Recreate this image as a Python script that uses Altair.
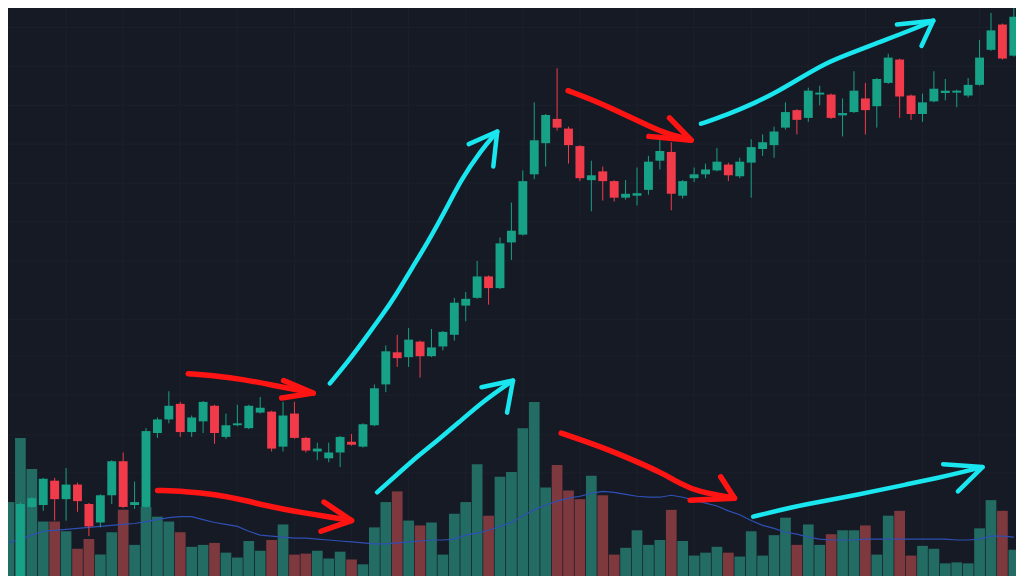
import altair as alt
import pandas as pd

# ---------------- colours ----------------
BG = "#161a25"
GRID = "#1c202c"
UP = "#17a187"
DOWN = "#f23b4a"
VOL_UP = "#236c64"
VOL_DOWN = "#7d393e"
MA_COLOR = "#2f4fb3"
RED = "#ff1414"
CYAN = "#19e6ef"

# ---------------- candle data (price units) ----------------
opens = [
    92, 92, 135.5, 136.5, 149, 139.5, 147, 137, 127.5, 141.5,
    159, 136.5, 135.5, 173.5, 180.5, 188.5, 174, 179.5, 187.5, 171.5,
    177.5, 176, 184, 184.5, 166.5, 183.5, 171, 164, 160.5, 163.5,
    169, 166.5, 177.5, 198.5, 215, 212.5, 220.5, 213, 218, 224,
    239, 243, 254, 248, 271.5, 275.5, 306.5, 322.5, 335, 330,
    321, 303.5, 308, 303, 294.5, 295.5, 298.5, 313.5, 318, 295.5,
    304.5, 306.5, 308.5, 311.5, 305.5, 312.5, 319.5, 321.5, 330.5, 339.5,
    335.5, 347.5, 347.5, 336.8, 338.5, 345.5, 341.5, 353.5, 365.5, 347,
    337.5, 344, 348.3, 348.5, 347, 352.5, 370.5, 383.5, 367.5]
highs = [
    98, 138, 140.5, 150.5, 150.5, 155.5, 148, 137.5, 142, 159.5,
    163.5, 148.5, 176, 181.5, 195, 189.5, 182.5, 190, 188, 183.5,
    188, 188, 192, 185, 189.5, 189.5, 171.5, 168.5, 168.5, 172,
    173, 178.5, 198.5, 218.5, 224, 227.5, 221, 227, 226, 243,
    246, 262, 254.5, 274, 292, 308.5, 343.5, 337.5, 361, 331,
    321.5, 313.5, 310.5, 303.5, 303.5, 310, 316, 324, 323, 303.5,
    310, 312, 320, 312.5, 315, 324.5, 327, 331, 343.5, 340,
    351, 352, 348, 345.5, 359.5, 353.5, 356, 368.5, 366, 347.5,
    348, 359.5, 355.5, 350, 356, 375.5, 389.5, 384, 395]
lows = [
    90, 90, 135, 133.5, 128.5, 128.5, 133, 120.5, 125, 137,
    135, 134.5, 135, 171, 178.5, 171.5, 171.5, 173.5, 168, 170.5,
    177, 175.5, 183.5, 164, 164, 170.5, 163.5, 159.5, 158.5, 156,
    167, 166, 177, 194.5, 207.5, 207.5, 202, 212.5, 216, 221,
    231, 242.5, 239.5, 247.5, 262.5, 275, 304, 310.5, 329, 312,
    303, 287.5, 293, 292.5, 293.5, 290.5, 296, 309, 288, 294,
    302.5, 304.5, 308, 303, 304.5, 294.5, 316, 315, 329.5, 327,
    333.5, 342, 335, 326, 338, 327, 330.5, 353, 335.5, 334.5,
    333.5, 343.5, 344.5, 341, 346, 352, 370, 365.5, 367]
closes = [
    96, 137, 140, 150, 139.5, 147, 138.5, 125.5, 141.5, 159,
    135.5, 138, 174.5, 180.5, 187.5, 174, 181.5, 189.5, 173.5, 177.5,
    178.5, 187.5, 186.5, 165.5, 182.5, 171, 164.5, 165.5, 163.5, 171.5,
    167.5, 178, 196.5, 215.5, 212, 221.5, 213, 217.5, 225.5, 240.5,
    242.5, 254, 248, 271, 277.5, 303, 324, 337, 330.5, 321.5,
    304.5, 306, 303, 294.5, 296.5, 296.8, 313, 318.5, 296.5, 303,
    306.5, 309, 313, 306, 313, 320.5, 323, 328.5, 338.5, 334.5,
    349.5, 348.5, 335.5, 338, 349.5, 339.5, 355.5, 366.5, 346.5, 337.5,
    343.5, 350.5, 349.5, 349.5, 352.5, 366.5, 380.5, 366, 387.5]

# ---------------- volume data ----------------
volumes = [
    760, 1420, 1100, 560, 560, 460, 280, 380, 220, 450,
    680, 320, 710, 610, 560, 450, 300, 320, 340, 240,
    190, 360, 260, 370, 530, 220, 230, 260, 180, 250,
    170, 120, 500, 760, 870, 570, 520, 550, 220, 640,
    760, 1150, 620, 1020, 1070, 1520, 1790, 910, 1140, 880,
    790, 1030, 830, 220, 290, 470, 320, 370, 680, 360,
    210, 240, 300, 240, 200, 460, 210, 420, 600, 320,
    530, 320, 430, 470, 470, 520, 220, 620, 670, 210,
    310, 280, 130, 140, 130, 490, 780, 670, 270]
volume_ma = [
    340, 380, 420, 460, 470, 480, 490, 500, 510, 520,
    530, 540, 560, 580, 600, 610, 610, 580, 550, 530,
    510, 460, 420, 410, 400, 390, 390, 380, 370, 360,
    350, 340, 330, 330, 340, 350, 360, 370, 370, 380,
    420, 440, 470, 510, 550, 620, 680, 730, 770, 800,
    820, 850, 870, 860, 840, 820, 810, 810, 830, 810,
    780, 750, 720, 670, 630, 570, 520, 490, 450, 430,
    400, 380, 370, 370, 370, 380, 380, 380, 380, 380,
    380, 380, 380, 370, 370, 380, 410, 410, 400]

# ---------------- grid ----------------
grid_rows_px = [20, 60, 100, 140, 180, 220, 260, 320, 358, 398, 439, 478]
grid_cols_bar = [5, 10, 15, 20, 25, 30, 35, 40, 45, 50, 55, 60, 65, 70, 75, 80, 85]

# ---------------- hand-drawn arrows (screen space of the picture) ----------------
red_arrow_1 = [(183, 376), (210, 378), (240, 382), (270, 388), (295, 393), (310, 396)]
red_arrow_1_head = [(280, 383), (310, 396), (278, 401)]
red_arrow_2 = [(152, 496), (180, 497), (210, 500), (240, 506), (267, 513), (300, 519), (330, 524), (349, 527)]
red_arrow_2_head = [(321, 508), (349, 527), (318, 538)]
red_arrow_3 = [(569, 85), (590, 93), (613, 103), (640, 116), (663, 127), (680, 132), (694, 136)]
red_arrow_3_head = [(672, 113), (694, 136), (651, 132)]
red_arrow_4 = [(562, 437), (585, 445), (612, 455), (640, 467), (662, 477), (685, 490), (700, 497), (738, 504)]
red_arrow_4_head = [(724, 482), (738, 504), (693, 506)]
cyan_arrow_1 = [(327, 386), (345, 364), (362, 341), (380, 316), (393, 297), (410, 268), (427, 240),
                (445, 207), (460, 177), (480, 147), (497, 127)]
cyan_arrow_1_head = [(468, 140), (497, 127), (493, 163)]
cyan_arrow_2 = [(375, 498), (395, 480), (417, 460), (437, 444), (457, 427), (483, 404), (513, 383)]
cyan_arrow_2_head = [(481, 390), (513, 383), (507, 416)]
cyan_arrow_3 = [(704, 119), (730, 110), (760, 97), (780, 87), (805, 72), (830, 57), (855, 47),
                (880, 37), (917, 23), (940, 13)]
cyan_arrow_3_head = [(903, 17), (940, 13), (928, 39)]
cyan_arrow_4 = [(757, 523), (785, 516), (812, 510), (845, 504), (879, 497), (912, 490), (945, 483),
                (970, 477), (990, 472)]
cyan_arrow_4_head = [(950, 469), (990, 472), (965, 497)]

# ---------------- tables ----------------
n = len(opens)
df = pd.DataFrame({
    "i": list(range(n)),
    "open": opens, "high": highs, "low": lows, "close": closes,
    "volume": volumes, "vol_ma": volume_ma,
})
df["dir"] = ["up" if c >= o else "down" for o, c in zip(opens, closes)]


def arrow_rows(kind, name, pts):
    return [{"kind": kind, "seg": name, "ord": k, "x": p[0], "y": p[1]} for k, p in enumerate(pts)]


shaft_rows, head_rows = [], []
for kind, name, shaft, head in [
    ("red", "r1", red_arrow_1, red_arrow_1_head),
    ("red", "r2", red_arrow_2, red_arrow_2_head),
    ("red", "r3", red_arrow_3, red_arrow_3_head),
    ("red", "r4", red_arrow_4, red_arrow_4_head),
    ("cyan", "c1", cyan_arrow_1, cyan_arrow_1_head),
    ("cyan", "c2", cyan_arrow_2, cyan_arrow_2_head),
    ("cyan", "c3", cyan_arrow_3, cyan_arrow_3_head),
    ("cyan", "c4", cyan_arrow_4, cyan_arrow_4_head),
]:
    shaft_rows += arrow_rows(kind, name, shaft)
    head_rows += arrow_rows(kind, name + "h", head)
shafts = pd.DataFrame(shaft_rows)
heads = pd.DataFrame(head_rows)
grid_rows = pd.DataFrame({"y": grid_rows_px})
grid_cols = pd.DataFrame({"i": grid_cols_bar})

# ---------------- scales ----------------
W, H = 1008, 568
x_bar = alt.Scale(domain=[-0.086, 88.19], nice=False, zero=False)
y_price = alt.Scale(domain=[100, 392], nice=False, zero=False)
y_vol = alt.Scale(domain=[0, 5840], nice=False, zero=False)
x_px = alt.Scale(domain=[0, 1024], nice=False, zero=False)
y_px = alt.Scale(domain=[0, 584], nice=False, zero=False, reverse=True)
candle_color = alt.Color("dir:N", scale=alt.Scale(domain=["up", "down"], range=[UP, DOWN]), legend=None)
vol_color = alt.Color("dir:N", scale=alt.Scale(domain=["up", "down"], range=[VOL_UP, VOL_DOWN]), legend=None)
arrow_color = alt.Color("kind:N", scale=alt.Scale(domain=["red", "cyan"], range=[RED, CYAN]), legend=None)

grid_h = alt.Chart(grid_rows).mark_rule(color=GRID, strokeWidth=1).encode(
    y=alt.Y("y:Q", scale=y_px, axis=None))
grid_v = alt.Chart(grid_cols).mark_rule(color=GRID, strokeWidth=1).encode(
    x=alt.X("i:Q", scale=x_bar, axis=None))

base = alt.Chart(df)
vol = base.transform_calculate(x0="datum.i - 0.47", x1="datum.i + 0.47").mark_bar(clip=True).encode(
    x=alt.X("x0:Q", scale=x_bar, axis=None), x2="x1:Q",
    y=alt.Y("volume:Q", scale=y_vol, axis=None), y2=alt.datum(0),
    color=vol_color)
ma = base.mark_line(color=MA_COLOR, strokeWidth=1.2, clip=True).encode(
    x=alt.X("i:Q", scale=x_bar, axis=None),
    y=alt.Y("vol_ma:Q", scale=y_vol, axis=None))
wick = base.mark_rule(strokeWidth=1, clip=True).encode(
    x=alt.X("i:Q", scale=x_bar, axis=None),
    y=alt.Y("low:Q", scale=y_price, axis=None), y2="high:Q",
    color=candle_color)
body = base.transform_calculate(b0="datum.i - 0.39", b1="datum.i + 0.39").mark_bar(clip=True).encode(
    x=alt.X("b0:Q", scale=x_bar, axis=None), x2="b1:Q",
    y=alt.Y("open:Q", scale=y_price, axis=None), y2="close:Q",
    color=candle_color)


def arrow_layer(data, kind, width, interp):
    return alt.Chart(data).transform_filter(alt.datum.kind == kind).mark_line(
        strokeWidth=width, strokeCap="round", strokeJoin="round", interpolate=interp, clip=True
    ).encode(
        x=alt.X("x:Q", scale=x_px, axis=None),
        y=alt.Y("y:Q", scale=y_px, axis=None),
        detail="seg:N", order="ord:Q", color=arrow_color)


layers = [
    grid_h, grid_v, vol, ma, wick, body,
    arrow_layer(shafts, "red", 5.5, "basis"),
    arrow_layer(heads, "red", 5.5, "linear"),
    arrow_layer(shafts, "cyan", 4.5, "basis"),
    arrow_layer(heads, "cyan", 4.5, "linear"),
]

chart = alt.layer(*layers).resolve_scale(
    x="independent", y="independent", color="independent"
).properties(
    width=W, height=H, padding=0, autosize=alt.AutoSizeParams(type="none"), background=BG
).configure_view(stroke=None, fill=BG)

chart.save("out.html", embed_options={"renderer": "svg", "actions": False})
